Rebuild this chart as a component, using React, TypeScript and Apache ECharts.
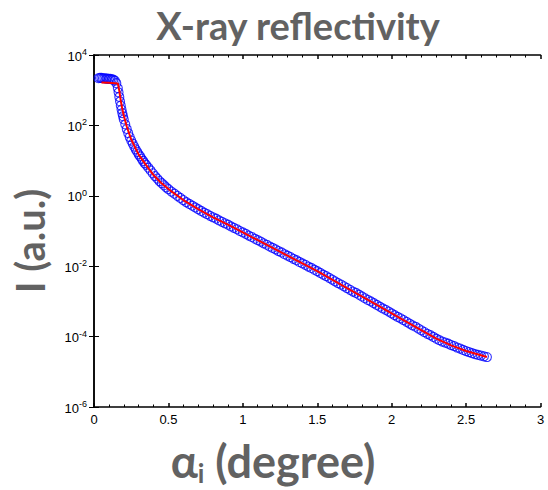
import { useEffect, useRef } from "react";
import * as echarts from "echarts";

// Incidence angle (degrees) of each measured point
const alpha = [
  0.03, 0.04, 0.05, 0.06, 0.07, 0.08, 0.09, 0.1, 0.11, 0.12, 0.13, 0.14, 0.15,
  0.16, 0.165, 0.17, 0.175, 0.18, 0.185, 0.19, 0.195, 0.2, 0.21, 0.22, 0.23,
  0.24, 0.25, 0.26, 0.27, 0.28, 0.29, 0.3, 0.31, 0.32, 0.33, 0.34, 0.35, 0.365,
  0.38, 0.395, 0.41, 0.425, 0.44, 0.455, 0.47, 0.485, 0.5, 0.52, 0.54, 0.56,
  0.58, 0.6, 0.62, 0.64, 0.66, 0.68, 0.7, 0.72, 0.74, 0.76, 0.78, 0.8, 0.82,
  0.84, 0.86, 0.88, 0.9, 0.92, 0.94, 0.96, 0.98, 1.0, 1.02, 1.04, 1.06, 1.08,
  1.1, 1.12, 1.14, 1.16, 1.18, 1.2, 1.22, 1.24, 1.26, 1.28, 1.3, 1.32, 1.34,
  1.36, 1.38, 1.4, 1.42, 1.44, 1.46, 1.48, 1.5, 1.52, 1.54, 1.56, 1.58, 1.6,
  1.62, 1.64, 1.66, 1.68, 1.7, 1.72, 1.74, 1.76, 1.78, 1.8, 1.82, 1.84, 1.86,
  1.88, 1.9, 1.92, 1.94, 1.96, 1.98, 2.0, 2.02, 2.04, 2.06, 2.08, 2.1, 2.12,
  2.14, 2.16, 2.18, 2.2, 2.22, 2.24, 2.26, 2.28, 2.3, 2.32, 2.34, 2.36, 2.38,
  2.4, 2.42, 2.44, 2.46, 2.48, 2.5, 2.52, 2.54, 2.56, 2.58, 2.6, 2.62, 2.64,
];

// Measured intensity, as log10(I)
const logIntensity = [
  3.34, 3.35, 3.35, 3.34, 3.34, 3.33, 3.33, 3.32, 3.32, 3.31, 3.3, 3.27, 3.2,
  3.06, 2.94, 2.81, 2.68, 2.56, 2.45, 2.35, 2.26, 2.17, 2.03, 1.9, 1.78, 1.67,
  1.57, 1.48, 1.4, 1.32, 1.25, 1.18, 1.12, 1.05, 0.99, 0.93, 0.88, 0.8, 0.72,
  0.64, 0.56, 0.49, 0.42, 0.36, 0.3, 0.24, 0.19, 0.12, 0.06, 0.0, -0.06, -0.12,
  -0.18, -0.23, -0.28, -0.33, -0.38, -0.43, -0.48, -0.52, -0.57, -0.61, -0.65,
  -0.7, -0.74, -0.78, -0.82, -0.87, -0.91, -0.95, -1.0, -1.04, -1.08, -1.13,
  -1.17, -1.22, -1.26, -1.3, -1.35, -1.39, -1.44, -1.48, -1.52, -1.57, -1.61,
  -1.66, -1.7, -1.74, -1.79, -1.83, -1.88, -1.92, -1.96, -2.01, -2.05, -2.1,
  -2.14, -2.19, -2.24, -2.28, -2.33, -2.38, -2.43, -2.48, -2.52, -2.57, -2.62,
  -2.67, -2.72, -2.76, -2.81, -2.86, -2.91, -2.96, -3.0, -3.05, -3.1, -3.15,
  -3.2, -3.24, -3.29, -3.34, -3.39, -3.44, -3.48, -3.53, -3.58, -3.63, -3.68,
  -3.72, -3.77, -3.82, -3.87, -3.92, -3.96, -4.01, -4.06, -4.1, -4.14, -4.17,
  -4.2, -4.24, -4.27, -4.31, -4.34, -4.38, -4.41, -4.44, -4.47, -4.5, -4.52,
  -4.54, -4.56, -4.58,
];

// Fitted reflectivity curve
const fitAlpha = [
  0.05, 0.1, 0.16, 0.17, 0.18, 0.19, 0.2, 0.22, 0.25, 0.3, 0.35, 0.4, 0.45, 0.5,
  0.6, 0.7, 0.8, 0.9, 1.0, 1.2, 1.4, 1.5, 1.7, 1.9, 2.1, 2.3, 2.4, 2.5, 2.64,
];
const fitLogIntensity = [
  3.22, 3.21, 3.19, 2.98, 2.7, 2.47, 2.28, 1.97, 1.6, 1.17, 0.87, 0.59, 0.37,
  0.19, -0.12, -0.38, -0.61, -0.82, -1.04, -1.48, -1.92, -2.14, -2.62, -3.1,
  -3.58, -4.06, -4.25, -4.41, -4.58,
];

const xMin = 0;
const xMax = 3;
const xStep = 0.5;
const yMinExp = -6;
const yMaxExp = 4;
const yStepExp = 2;

const chartTitle = "X-ray reflectivity";
const yTitle = "I (a.u.)";

const TITLE_COLOR = "#626262";
const TITLE_FONT = "Lato, 'Open Sans', sans-serif";
const TICK_FONT = "'Liberation Sans', Arial, sans-serif";

export default function App() {
  const ref = useRef<HTMLDivElement>(null);

  useEffect(() => {
    document.body.style.margin = "0";
    const chart = echarts.init(ref.current!, null, { renderer: "svg" });

    const measured = alpha.map((a, i) => [a, Math.pow(10, logIntensity[i])]);
    const fit = fitAlpha.map((a, i) => [a, Math.pow(10, fitLogIntensity[i])]);

    const axisLine = { show: true, lineStyle: { color: "#000", width: 1.5 } };

    const xAxisBase = {
      type: "value",
      min: xMin,
      max: xMax,
      interval: xStep,
      axisLine,
      axisTick: { show: true, inside: true, length: 4, lineStyle: { color: "#000", width: 1.5 } },
      minorTick: { show: true, splitNumber: 5, length: 2.5, lineStyle: { color: "#000", width: 1 } },
      splitLine: { show: false },
    };

    const yAxisBase = {
      type: "log",
      logBase: 10,
      min: Math.pow(10, yMinExp),
      max: Math.pow(10, yMaxExp),
      interval: yStepExp,
      axisLine,
      axisTick: { show: true, inside: true, length: 5, lineStyle: { color: "#000", width: 1 } },
      splitLine: { show: false },
      minorTick: { show: false },
    };

    chart.setOption({
      animation: false,
      backgroundColor: "#ffffff",
      grid: { left: 94, right: 7.5, top: 55, bottom: 83 },
      xAxis: [
        {
          ...xAxisBase,
          position: "bottom",
          axisLabel: {
            show: true,
            color: "#000",
            fontSize: 13,
            fontFamily: TICK_FONT,
            margin: 6,
          },
        },
        {
          ...xAxisBase,
          position: "top",
          axisLabel: { show: false },
        },
      ],
      yAxis: [
        {
          ...yAxisBase,
          position: "left",
          axisLabel: {
            show: true,
            margin: 7,
            formatter: (v: number) => {
              const e = Math.round(Math.log10(v));
              if ((e - yMinExp) % yStepExp !== 0) return "";
              return `{b|10}{s|${e}}`;
            },
            rich: {
              b: { fontSize: 13, fontFamily: TICK_FONT, color: "#000", verticalAlign: "bottom" },
              s: {
                fontSize: 9,
                fontFamily: TICK_FONT,
                color: "#000",
                verticalAlign: "top",
                padding: [0, 0, 6, 0],
              },
            },
          },
        },
        {
          ...yAxisBase,
          position: "right",
          axisLabel: { show: false },
        },
      ],
      series: [
        {
          name: "measured",
          type: "scatter",
          data: measured,
          symbol: "circle",
          symbolSize: 9,
          itemStyle: {
            color: "rgba(0,0,0,0)",
            borderColor: "#0000ff",
            borderWidth: 1.1,
          },
          z: 2,
        },
        {
          name: "fit",
          type: "line",
          data: fit,
          showSymbol: false,
          symbol: "none",
          smooth: false,
          lineStyle: { color: "#ff0000", width: 2 },
          z: 3,
        },
      ],
      graphic: [
        {
          type: "text",
          x: 298,
          y: 25,
          style: {
            text: chartTitle,
            fill: TITLE_COLOR,
            fontSize: 38,
            fontWeight: "bold",
            fontFamily: TITLE_FONT,
            align: "center",
            verticalAlign: "middle",
          },
        },
        {
          type: "text",
          x: 30,
          y: 241,
          rotation: Math.PI / 2,
          style: {
            text: yTitle,
            fill: TITLE_COLOR,
            fontSize: 40,
            fontWeight: "bold",
            fontFamily: TITLE_FONT,
            align: "center",
            verticalAlign: "middle",
          },
        },
        {
          type: "text",
          x: 273,
          y: 462,
          style: {
            text: "{a|α}{i|i}{a| (degree)}",
            fill: TITLE_COLOR,
            align: "center",
            verticalAlign: "middle",
            rich: {
              a: {
                fontSize: 45,
                fontWeight: "bold",
                fontFamily: TITLE_FONT,
                fill: TITLE_COLOR,
                verticalAlign: "top",
              },
              i: {
                fontSize: 26,
                fontWeight: "bold",
                fontFamily: TITLE_FONT,
                fill: TITLE_COLOR,
                verticalAlign: "bottom",
                padding: [22, 0, 0, 0],
              },
            },
          },
        },
      ],
    });

    return () => chart.dispose();
  }, []);

  return <div ref={ref} style={{ width: 548, height: 490 }} />;
}
